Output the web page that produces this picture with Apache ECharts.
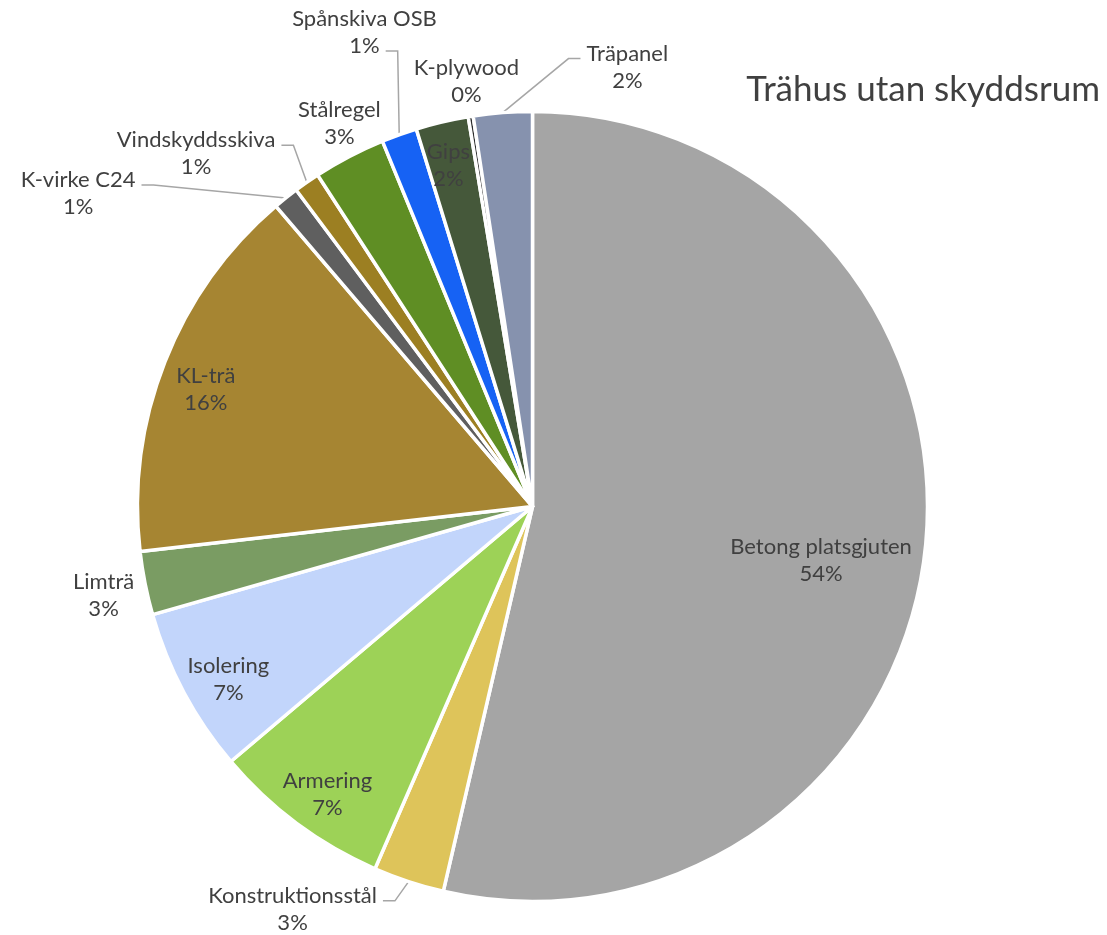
<!DOCTYPE html>
<html>
<head>
<meta charset="utf-8">
<title>Trähus utan skyddsrum</title>
<script src="https://cdn.jsdelivr.net/npm/echarts@6/dist/echarts.min.js"></script>
<style>
  html, body { margin: 0; padding: 0; background: #ffffff; }
  #chart { width: 1107px; height: 935px; }
</style>
</head>
<body>
<div id="chart"></div>
<script>
// Material shares of the building, clockwise from 12 o'clock
const categories = [
  'Betong platsgjuten', 'Konstruktionsstål', 'Armering', 'Isolering', 'Limträ',
  'KL-trä', 'K-virke C24', 'Vindskyddsskiva', 'Stålregel', 'Spånskiva OSB',
  'Gips', 'K-plywood', 'Träpanel'
];
const values = [53.6, 2.9, 7.3, 6.75, 2.6, 15.55, 1.05, 1.05, 2.95, 1.45, 2.15, 0.2, 2.4];
const colors = [
  '#A5A5A5', '#DEC45A', '#9DD257', '#C2D5FB', '#7A9C63',
  '#A68532', '#5F5F5F', '#9C7F22', '#5F8E24', '#1662F4',
  '#45583A', '#2B2B2B', '#8692AE'
];

// Label placement: [radius factor, angular shift in degrees from the slice middle]
const labelSpots = [
  [0.743, 4.0], [1.187, 12.5], [0.895, -1.2], [0.886, -1.6], [1.109, -0.5],
  [0.879, -1.7], [1.397, -16.8], [1.234, -8.8], [1.086, 0.9], [1.273, 0.2],
  [0.890, -0.6], [1.088, 0.15], [1.138, 16.5]
];
// Which text line a leader line starts from (null = no leader line)
const leaderFrom = [null, 0, null, null, null, null, 0, 0, null, 1, null, null, 0];

const CX = 532.5, CY = 506.5, R = 395;
const FONT = 'Lato';
const FONT_SIZE = 22;
const LINE_H = 27;

const total = values.reduce((a, b) => a + b, 0);
const mids = [];
let acc = 0;
values.forEach(v => { mids.push((acc + v / 2) / total * 360); acc += v; });

function polar(k, deg) {
  const a = deg * Math.PI / 180;
  return [CX + R * k * Math.sin(a), CY - R * k * Math.cos(a)];
}

const measureCtx = document.createElement('canvas').getContext('2d');
measureCtx.font = FONT_SIZE + 'px ' + FONT;

const chart = echarts.init(document.getElementById('chart'), null, { renderer: 'canvas' });

chart.setOption({
  backgroundColor: '#ffffff',
  animation: false,
  title: {
    text: 'Trähus utan skyddsrum',
    right: 2,
    top: 65,
    textStyle: { fontFamily: FONT, fontSize: 35, fontWeight: 'normal', color: '#404040', lineHeight: 40 }
  },
  series: [{
    type: 'pie',
    center: [CX, CY],
    radius: [0, R],
    startAngle: 90,
    clockwise: true,
    avoidLabelOverlap: false,
    percentPrecision: 0,
    itemStyle: { borderColor: '#ffffff', borderWidth: 3.5 },
    label: {
      show: true,
      position: 'outside',
      formatter: '{b}\n{d}%',
      fontFamily: FONT,
      fontSize: FONT_SIZE,
      lineHeight: LINE_H,
      color: '#404040',
      align: 'center'
    },
    labelLine: {
      show: true,
      lineStyle: { color: '#A6A6A6', width: 1.5 }
    },
    emphasis: { disabled: true },
    labelLayout: function (params) {
      const i = params.dataIndex;
      const [k, shift] = labelSpots[i];
      const [x, y] = polar(k, mids[i] + shift);
      const out = { x: x, y: y, align: 'center', verticalAlign: 'middle' };
      if (leaderFrom[i] !== null) {
        const lines = String(params.text || '').split('\n');
        const lineText = lines[leaderFrom[i]] || '';
        const w = measureCtx.measureText(lineText).width;
        const ly = y + (leaderFrom[i] === 0 ? -LINE_H / 2 : LINE_H / 2) + 5;
        const edge = polar(1, mids[i]);
        const leftSide = x < edge[0];
        const x1 = leftSide ? x + w / 2 + 6 : x - w / 2 - 6;
        const x2 = leftSide ? x1 + 12 : x1 - 12;
        out.labelLinePoints = [[x1, ly], [x2, ly], edge];
      }
      return out;
    },
    data: categories.map((name, i) => ({
      name: name,
      value: values[i],
      itemStyle: { color: colors[i] },
      labelLine: { show: leaderFrom[i] !== null }
    }))
  }]
});
</script>
</body>
</html>
